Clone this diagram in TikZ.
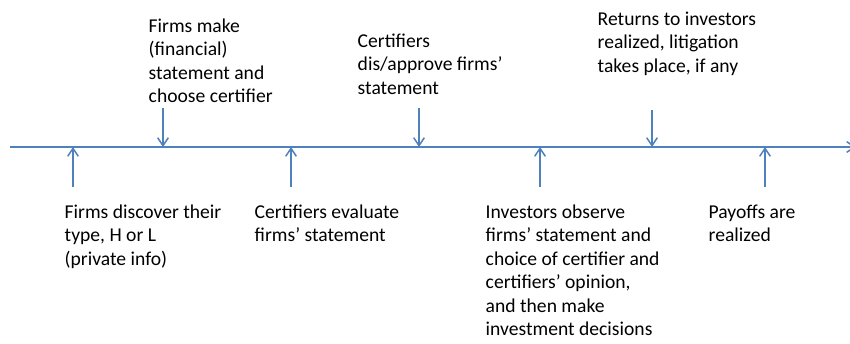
\documentclass[tikz,border=0pt]{standalone}
\usepackage{fontspec}
\setmainfont{Carlito}
\usetikzlibrary{arrows.meta}

\tikzset{every picture/.style={line width=1.1pt}}
\tikzset{
  timeline/.style={color={rgb, 255:red, 79; green, 129; blue, 189}, draw opacity=1, -{Straight Barb[length=6pt,width=8pt]}},
  evtext/.style={anchor=base west, inner sep=0pt, align=left, font=\fontsize{14.7}{17.6}\selectfont}
}

\begin{document}
\begin{tikzpicture}[x=0.75pt,y=0.75pt,yscale=-1,xscale=1]
\clip (0,0) rectangle (850,343); %diagram is 850 wide and 343 high

%Time axis
\coordinate (axis-start) at (10,147);
\coordinate (axis-end) at (856,147);
\draw [timeline] (axis-start) -- (axis-end) ;

%Events on the axis
\coordinate (ev-type) at (73,147);
\coordinate (ev-choose) at (163,147);
\coordinate (ev-evaluate) at (291,147);
\coordinate (ev-approve) at (419,147);
\coordinate (ev-invest) at (540,147);
\coordinate (ev-returns) at (652,147);
\coordinate (ev-payoff) at (765,147);

%Arrow tails
\coordinate (tail-type) at (73,187);
\coordinate (tail-choose) at (163,108);
\coordinate (tail-evaluate) at (291,187);
\coordinate (tail-approve) at (419,108);
\coordinate (tail-invest) at (540,187);
\coordinate (tail-returns) at (652,110);
\coordinate (tail-payoff) at (765,187);

%Straight Lines with arrows
\draw [timeline] (tail-type) -- (ev-type) ;
\draw [timeline] (tail-choose) -- (ev-choose) ;
\draw [timeline] (tail-evaluate) -- (ev-evaluate) ;
\draw [timeline] (tail-approve) -- (ev-approve) ;
\draw [timeline] (tail-invest) -- (ev-invest) ;
\draw [timeline] (tail-returns) -- (ev-returns) ;
\draw [timeline] (tail-payoff) -- (ev-payoff) ;

% Text Node (base is the last line)
\node (txt-choose) at (148,102.5) [evtext] {Firms make\\(financial)\\statement and\\choose certifier};
% Text Node
\node (txt-approve) at (357,94) [evtext] {Certifiers\\dis/approve firms’\\statement};
% Text Node
\node (txt-returns) at (597,72) [evtext] {Returns to investors\\realized, litigation\\takes place, if any};
% Text Node
\node (txt-type) at (64,265) [evtext] {Firms discover their\\type, H or L\\(private info)};
% Text Node
\node (txt-evaluate) at (254,241.5) [evtext] {Certifiers evaluate\\firms’ statement};
% Text Node
\node (txt-invest) at (485,335.5) [evtext] {Investors observe\\firms’ statement and\\choice of certifier and\\certifiers’ opinion,\\and then make\\investment decisions};
% Text Node
\node (txt-payoff) at (708,241.5) [evtext] {Payoffs are\\realized};

\end{tikzpicture}
\end{document}
